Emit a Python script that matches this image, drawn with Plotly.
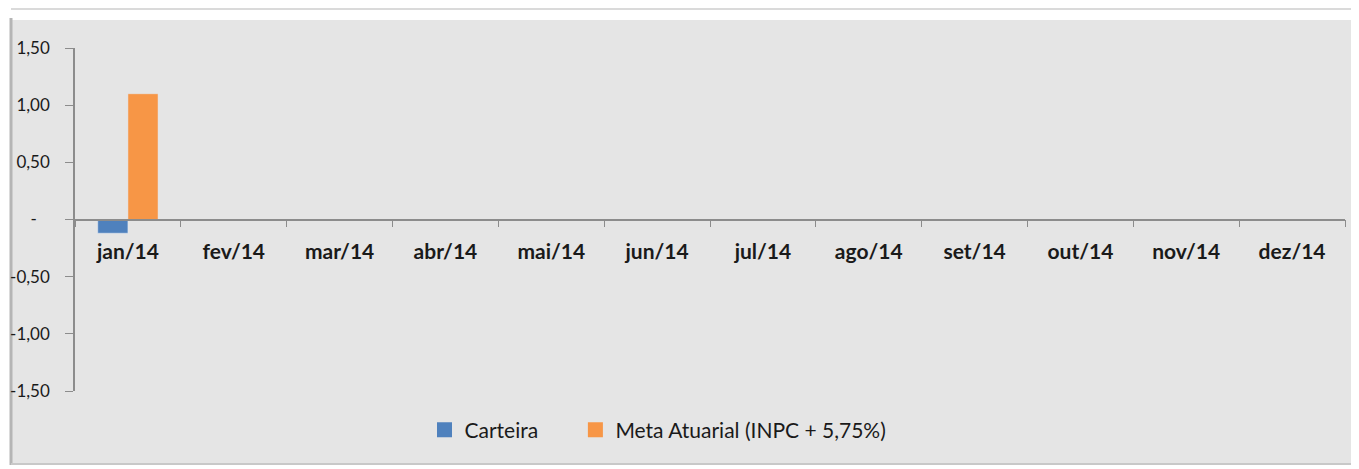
import plotly.graph_objects as go

categories = ["jan/14", "fev/14", "mar/14", "abr/14", "mai/14", "jun/14",
              "jul/14", "ago/14", "set/14", "out/14", "nov/14", "dez/14"]
carteira = [-0.12] + [None] * 11
meta = [1.10] + [None] * 11
ytickvals = [1.5, 1.0, 0.5, 0, -0.5, -1.0, -1.5]
yticktext = ["1,50", "1,00", "0,50", "-\u00a0\u00a0\u00a0", "-0,50", "-1,00", "-1,50"]

OFF = 8  # page body margin
W, H = 1359 - OFF, 469 - OFF
L, R, T, B = 75 - OFF, 14, 48 - OFF, 78
pw = W - L - R
ph = H - T - B

def px(x):
    return (x - OFF - L) / pw

def py(y):
    return (H - B - (y - OFF)) / ph

blue, orange = "#4f81bd", "#f79646"
fig = go.Figure()
fig.add_bar(x=categories, y=carteira, name="Carteira", marker_color=blue, showlegend=False)
fig.add_bar(x=categories, y=meta, name="Meta Atuarial (INPC + 5,75%)", marker_color=orange, showlegend=False)
fig.add_scatter(x=[None], y=[None], mode="markers", name="Carteira\u00a0\u00a0\u00a0\u00a0\u00a0\u00a0",
                marker=dict(symbol="square", size=15, color=blue))
fig.add_scatter(x=[None], y=[None], mode="markers", name="Meta Atuarial (INPC + 5,75%)",
                marker=dict(symbol="square", size=15, color=orange))

gray = "#e5e5e5"
shapes = [
    dict(type="rect", xref="paper", yref="paper", x0=px(12), x1=px(1359), y0=py(463), y1=py(20),
         fillcolor=gray, line=dict(width=0), layer="below"),
    dict(type="line", xref="paper", yref="paper", x0=px(11), x1=px(11), y0=py(465), y1=py(18),
         line=dict(color="#b5b5b5", width=3), layer="below"),
    dict(type="line", xref="paper", yref="paper", x0=px(11), x1=px(1359), y0=py(9), y1=py(9),
         line=dict(color="#dadada", width=2), layer="below"),
    dict(type="line", xref="paper", yref="paper", x0=px(11), x1=px(1359), y0=py(464), y1=py(464),
         line=dict(color="#c8c8c8", width=2), layer="below"),
]

fig.update_layout(
    width=W, height=H,
    margin=dict(l=L, r=R, t=T, b=B, autoexpand=False),
    paper_bgcolor="white",
    plot_bgcolor=gray,
    barmode="group",
    bargap=0.43,
    bargroupgap=0,
    font=dict(family="Lato", color="#1a1a1a"),
    shapes=shapes,
    showlegend=True,
    legend=dict(orientation="h", x=px(658), xanchor="center", y=py(430), yanchor="middle",
                font=dict(size=21), bgcolor="rgba(0,0,0,0)", itemwidth=30,
                tracegroupgap=0, itemsizing="trace"),
    xaxis=dict(
        type="category", anchor="free", position=0.5, showgrid=False, automargin=False,
        showline=True, linecolor="#8c8c8c", linewidth=1.5,
        ticks="outside", tickson="boundaries", ticklen=7, tickcolor="#8c8c8c",
        tickfont=dict(size=21, family="Lato", weight="bold", color="#1a1a1a"),
        ticklabelstandoff=14,
    ),
    yaxis=dict(
        range=[-1.5, 1.5], showgrid=False, zeroline=False, automargin=False,
        tickvals=ytickvals, ticktext=yticktext,
        showline=True, linecolor="#8c8c8c", linewidth=1.5,
        ticks="outside", ticklen=8, tickcolor="#8c8c8c",
        tickfont=dict(size=17, family="Lato", color="#1a1a1a"),
        ticklabelstandoff=12,
    ),
)

fig.write_html("out.html")
